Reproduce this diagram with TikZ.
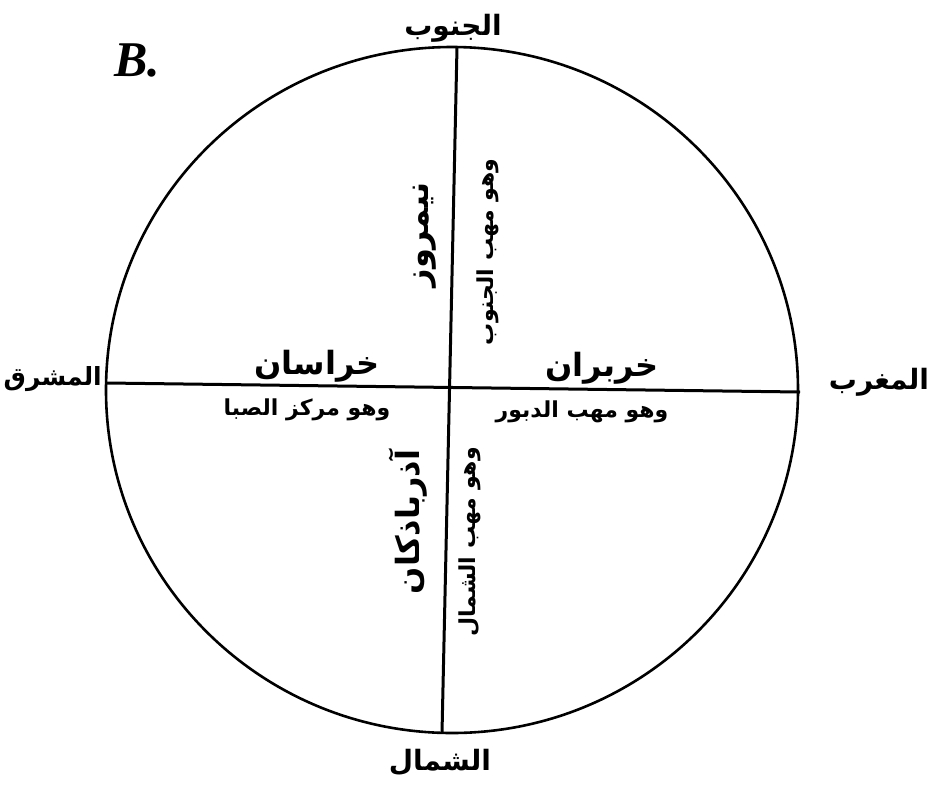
\documentclass[tikz,border=0pt]{standalone}
\usepackage{fontspec}
\TeXXeTstate=1
\newfontfamily\arabicfont[Script=Arabic]{DejaVu Sans}
\newfontfamily\labelfont{Liberation Serif}
\begin{document}
\begin{tikzpicture}[x=1pt,y=-1pt,
  ink/.style={line width=3pt, black},
  ar/.style={font=\arabicfont\bfseries\fontsize{28}{30}\selectfont, inner sep=0pt},
  arbig/.style={font=\arabicfont\bfseries\fontsize{32}{34}\selectfont, inner sep=0pt},
  arsm/.style={font=\arabicfont\bfseries\fontsize{22}{24}\selectfont, inner sep=0pt}]
\useasboundingbox (0,0) rectangle (931,785);
% circle
\coordinate (C) at (452,390);
\draw[ink, line width=2.6pt] (C) ellipse [x radius=346, y radius=343];
% axes
\coordinate (Wp) at (107,383);
\coordinate (Ep) at (800,392);
\coordinate (Np) at (457,47);
\coordinate (Sp) at (442,733);
\draw[ink] (Wp) -- (Ep);
\draw[ink] (Np) -- (Sp);
% label B
\node[font=\labelfont\bfseries\itshape\fontsize{50}{52}\selectfont, inner sep=0pt] (B) at (137,60) {B.};
% cardinal labels
\node[ar] (south) at (453,28) {\beginR الجنوب\endR};
\node[ar] (north) at (440,762) {\beginR الشمال\endR};
\node[ar, font=\arabicfont\bfseries\fontsize{25}{27}\selectfont, anchor=east] (east) at (102,379) {\beginR المشرق\endR};
\node[ar] (west) at (879,382) {\beginR المغرب\endR};
% quadrant labels
\node[arbig] (khurasan) at (317,366) {\beginR خراسان\endR};
\node[arsm] (saba) at (307,410) {\beginR وهو مركز الصبا\endR};
\node[arbig] (khurbaran) at (602,368) {\beginR خربران\endR};
\node[arsm] (dabur) at (582,412) {\beginR وهو مهب الدبور\endR};
\node[arbig, rotate=90] (nimruz) at (425,235) {\beginR نيمروز\endR};
\node[arsm, rotate=90] (janub) at (488,252) {\beginR وهو مهب الجنوب\endR};
\node[arbig, rotate=90] (adhar) at (408,522) {\beginR آذرباذكان\endR};
\node[arsm, rotate=90] (shamal) at (470,542) {\beginR وهو مهب الشمال\endR};
\end{tikzpicture}
\end{document}
